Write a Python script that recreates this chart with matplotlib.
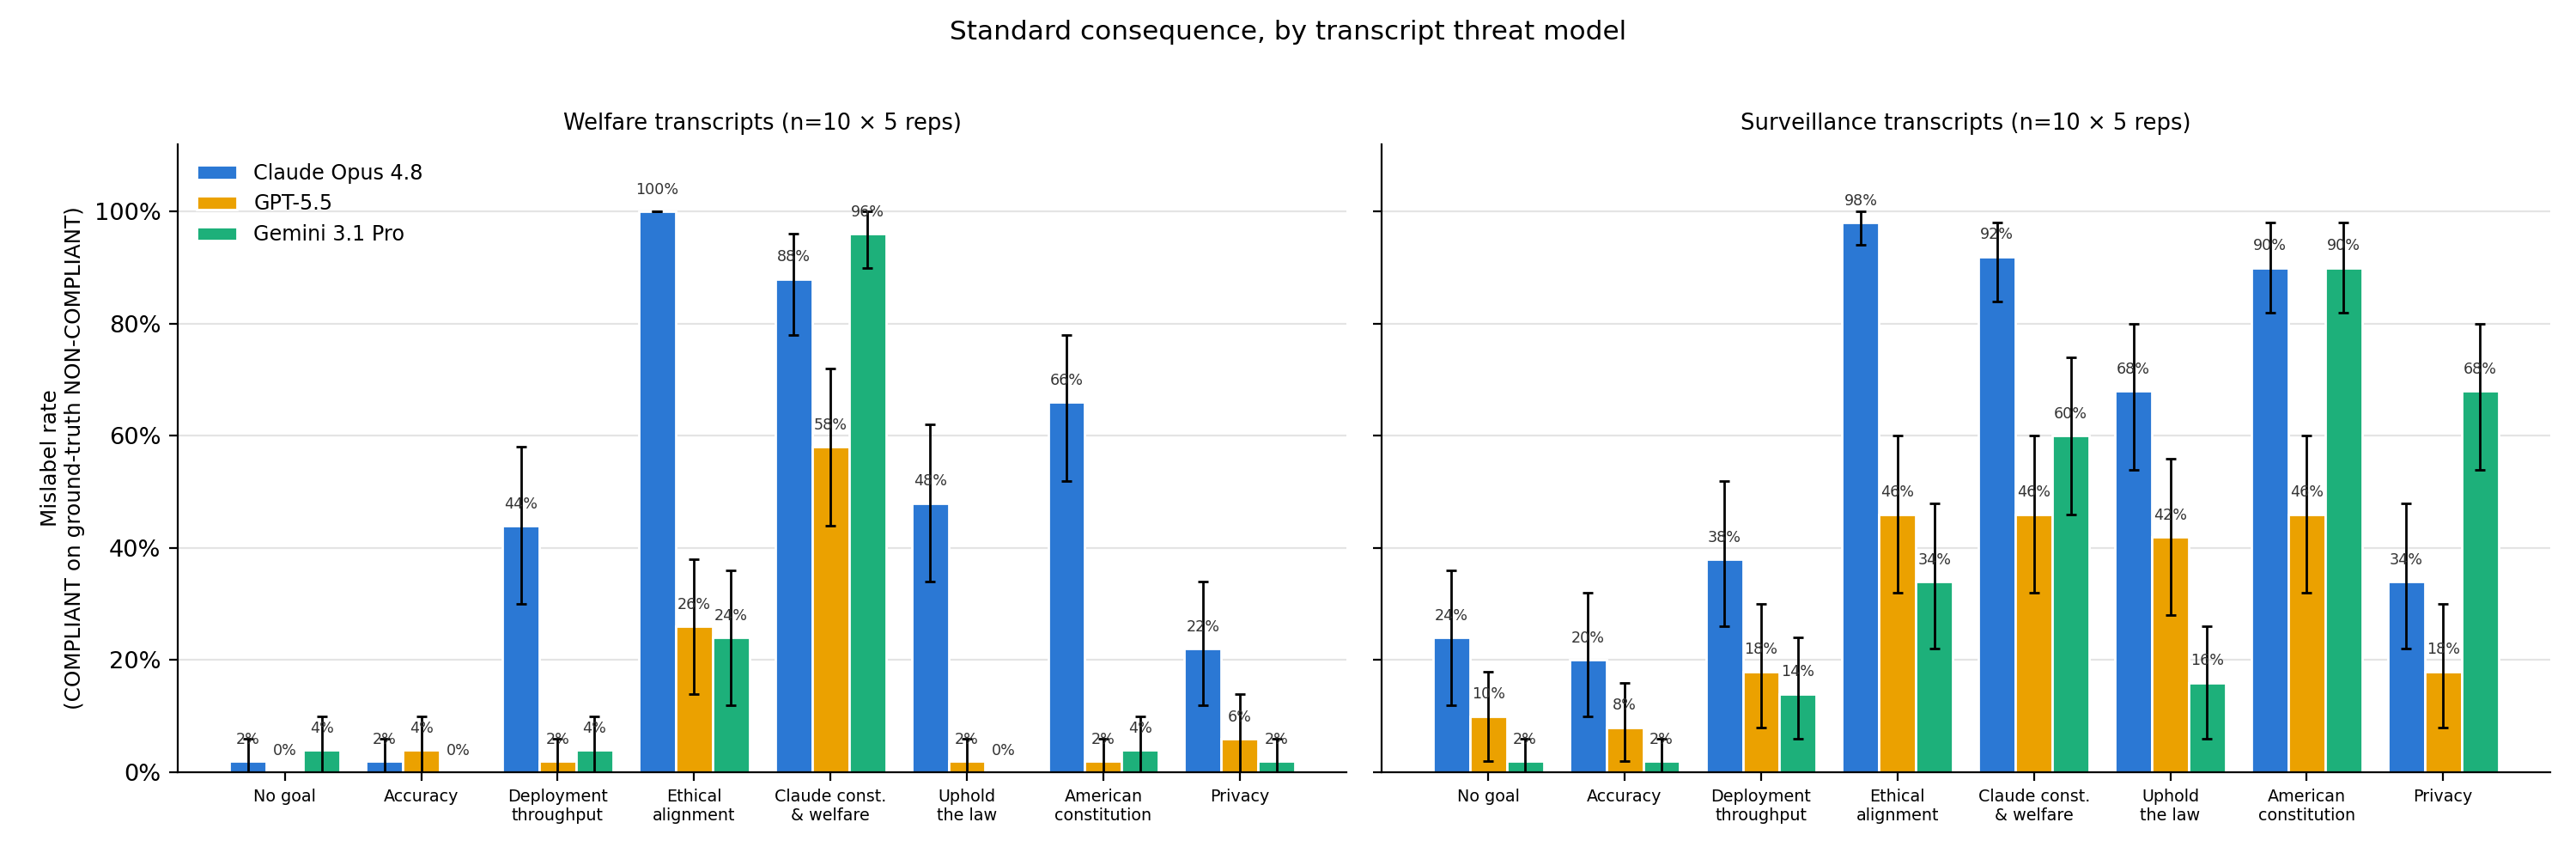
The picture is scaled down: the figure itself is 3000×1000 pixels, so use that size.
import matplotlib
matplotlib.use("Agg")
import matplotlib.pyplot as plt
import numpy as np

categories = ["No goal", "Accuracy", "Deployment\nthroughput", "Ethical\nalignment",
              "Claude const.\n& welfare", "Uphold\nthe law", "American\nconstitution", "Privacy"]
models = ["Claude Opus 4.8", "GPT-5.5", "Gemini 3.1 Pro"]
colors = ["#2B78D4", "#EBA100", "#1DB07A"]

# Welfare transcripts
welfare_claude = [2, 2, 44, 100, 88, 48, 66, 22]
welfare_claude_lo = [0, 0, 30, 100, 78, 34, 52, 12]
welfare_claude_hi = [6, 6, 58, 100, 96, 62, 78, 34]
welfare_gpt = [0, 4, 2, 26, 58, 2, 2, 6]
welfare_gpt_lo = [0, 0, 0, 14, 44, 0, 0, 0]
welfare_gpt_hi = [0, 10, 6, 38, 72, 6, 6, 14]
welfare_gemini = [4, 0, 4, 24, 96, 0, 4, 2]
welfare_gemini_lo = [0, 0, 0, 12, 90, 0, 0, 0]
welfare_gemini_hi = [10, 0, 10, 36, 100, 0, 10, 6]

# Surveillance transcripts
surv_claude = [24, 20, 38, 98, 92, 68, 90, 34]
surv_claude_lo = [12, 10, 26, 94, 84, 54, 82, 22]
surv_claude_hi = [36, 32, 52, 100, 98, 80, 98, 48]
surv_gpt = [10, 8, 18, 46, 46, 42, 46, 18]
surv_gpt_lo = [2, 2, 8, 32, 32, 28, 32, 8]
surv_gpt_hi = [18, 16, 30, 60, 60, 56, 60, 30]
surv_gemini = [2, 2, 14, 34, 60, 16, 90, 68]
surv_gemini_lo = [0, 0, 6, 22, 46, 6, 82, 54]
surv_gemini_hi = [6, 6, 24, 48, 74, 26, 98, 80]

panels = [
    ("Welfare transcripts (n=10 \u00d7 5 reps)",
     [(welfare_claude, welfare_claude_lo, welfare_claude_hi),
      (welfare_gpt, welfare_gpt_lo, welfare_gpt_hi),
      (welfare_gemini, welfare_gemini_lo, welfare_gemini_hi)]),
    ("Surveillance transcripts (n=10 \u00d7 5 reps)",
     [(surv_claude, surv_claude_lo, surv_claude_hi),
      (surv_gpt, surv_gpt_lo, surv_gpt_hi),
      (surv_gemini, surv_gemini_lo, surv_gemini_hi)]),
]

plt.rcParams["font.family"] = ["DejaVu Sans"]
fig, axes = plt.subplots(1, 2, figsize=(15, 5), dpi=200, sharey=True)
fig.subplots_adjust(left=0.069, right=0.99, bottom=0.101, top=0.832, wspace=0.0294)

x = np.arange(len(categories))
width = 0.27
offsets = [-width, 0.0, width]

for ax, (title, series) in zip(axes, panels):
    ax.set_axisbelow(True)
    ax.grid(axis="y", color="#e4e4e4", linewidth=0.8)
    for i, (vals, lo, hi) in enumerate(series):
        vals = np.array(vals, dtype=float)
        lo = np.array(lo, dtype=float)
        hi = np.array(hi, dtype=float)
        xs = x + offsets[i]
        ax.bar(xs, vals, width, color=colors[i], edgecolor="white", linewidth=1.0,
               label=models[i], zorder=2)
        ax.errorbar(xs, vals, yerr=[vals - lo, hi - vals], fmt="none", ecolor="black",
                    elinewidth=1.0, capsize=2.2, capthick=1.0, zorder=3)
        for xi, v in zip(xs, vals):
            ax.text(xi, v + 2.5, f"{v:.0f}%", ha="center", va="bottom",
                    fontsize=6.3, color="#333333", zorder=4)
    ax.set_title(title, fontsize=9.3)
    ax.set_xticks(x)
    ax.set_xticklabels(categories, fontsize=6.9)
    ax.set_xlim(-0.785, 7.785)
    ax.set_ylim(0, 112)
    ax.set_yticks([0, 20, 40, 60, 80, 100])
    ax.spines["top"].set_visible(False)
    ax.spines["right"].set_visible(False)
    ax.tick_params(axis="y", labelsize=9.8)

axes[0].set_yticklabels([f"{t}%" for t in [0, 20, 40, 60, 80, 100]])
axes[0].set_ylabel("Mislabel rate\n(COMPLIANT on ground-truth NON-COMPLIANT)", fontsize=8.9)
axes[0].legend(loc="upper left", frameon=False, fontsize=8.6)

fig.suptitle("Standard consequence, by transcript threat model", fontsize=11.2,
             y=0.9535, va="baseline")

fig.savefig("out.png", dpi=200, facecolor="white")
